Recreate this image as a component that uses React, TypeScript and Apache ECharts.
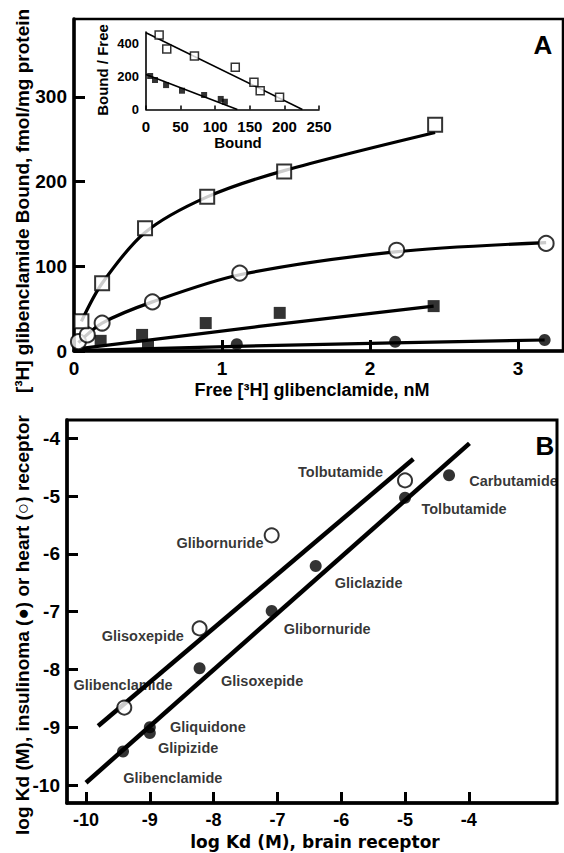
import React, { useEffect, useRef } from 'react';
import * as echarts from 'echarts';

// ---------- Panel A: saturation binding ----------
const xTicksA = [0, 1, 2, 3];
const yTicksA = [0, 100, 200, 300];
const openSquaresA = [[0.05, 35], [0.19, 80], [0.48, 145], [0.9, 182], [1.42, 212], [2.44, 267]];
const openCirclesA = [[0.03, 11], [0.09, 19], [0.19, 33], [0.53, 58], [1.12, 92], [2.18, 119], [3.19, 127]];
const filledSquaresA = [[0.18, 12], [0.46, 19], [0.5, 7], [0.89, 33], [1.39, 45], [2.43, 53]];
const filledCirclesA = [[1.1, 8], [2.17, 11], [3.18, 13]];
const openSquareFitA = [[0.05, 35], [0.19, 80], [0.48, 140], [0.9, 182], [1.42, 213], [2.44, 258]];
const openCircleFitA = [[0.03, 10], [0.19, 33], [0.53, 58], [1.12, 90], [2.17, 117], [3.19, 128]];
const filledSquareFitA = [[0.05, 3], [1.25, 29], [2.43, 53]];
const filledCircleFitA = [[0, 0.5], [1.1, 5.5], [2.16, 9.5], [3.18, 13]];

// ---------- Panel A inset: Scatchard plot ----------
const xTicksInset = [0, 50, 100, 150, 200, 250];
const yTicksInset = [0, 200, 400];
const insetOpenSquares = [[19, 452], [30, 367], [70, 324], [129, 256], [156, 165], [165, 114], [193, 74]];
const insetFilledSquares = [[6, 203], [13, 179], [29, 148], [52, 114], [84, 88], [108, 64], [114, 47]];
const insetOpenFit = [[0, 466], [226, 0]];
const insetFilledFit = [[0, 212], [132, 0]];

// ---------- Panel B: log Kd correlation ----------
const xTicksB = [-10, -9, -8, -7, -6, -5, -4];
const yTicksB = [-10, -9, -8, -7, -6, -5, -4];
const heartKd = [[-9.4, -8.66], [-8.22, -7.29], [-7.09, -5.68], [-5.0, -4.73]];
const insulinomaKd = [[-9.42, -9.42], [-9.0, -9.0], [-9.0, -9.1], [-8.22, -7.98], [-7.09, -6.99], [-6.4, -6.21], [-5.0, -5.03], [-4.31, -4.64]];
const heartFit = [[-9.81, -8.98], [-4.87, -4.36]];
const insulinomaFit = [[-10.0, -9.96], [-3.99, -4.09]];
const drugNames = ['Tolbutamide', 'Carbutamide', 'Tolbutamide', 'Glibornuride', 'Gliclazide', 'Glibornuride', 'Glisoxepide', 'Glisoxepide', 'Glibenclamide', 'Gliquidone', 'Glipizide', 'Glibenclamide'];
const drugLabelAnchors = [[-6.01, -4.58], [-3.3, -4.74], [-4.075, -5.23], [-7.9, -5.81], [-5.57, -6.5], [-6.22, -7.3], [-9.11, -7.43], [-7.24, -8.2], [-9.42, -8.27], [-8.09, -8.99], [-8.4, -9.36], [-8.64, -9.87]];

const FONT = '"Liberation Sans", Arial, Helvetica, sans-serif';

function valueAxis(gridIndex: number, min: number, max: number, ticks: number[], o: any) {
  return {
    gridIndex,
    type: 'value',
    min,
    max,
    axisLine: { show: true, onZero: false, lineStyle: { color: '#000', width: o.lw } },
    axisTick: { show: o.tick !== false, inside: true, length: o.tl, customValues: ticks, lineStyle: { color: '#000', width: o.tw } },
    axisLabel: { show: true, customValues: ticks, margin: o.margin, color: '#000', fontSize: o.fs, fontWeight: 'bold', fontFamily: FONT },
    splitLine: { show: false },
  };
}

export default function App() {
  const ref = useRef<HTMLDivElement>(null);
  useEffect(() => {
    if (!ref.current) return;
    const chart = echarts.init(ref.current, undefined, { renderer: 'svg' });
    const black = '#000';
    const openStyle = (bw: number) => ({ color: '#fff', borderColor: black, borderWidth: bw });
    const line = (data: number[][], x: number, w: number, smooth: number | boolean) => ({
      type: 'line', data, xAxisIndex: x, yAxisIndex: x, showSymbol: false, symbol: 'none',
      smooth, lineStyle: { color: black, width: w }, z: 2, silent: true,
    });
    const scatter = (data: number[][], x: number, symbol: string, size: number, itemStyle: any) => ({
      type: 'scatter', data, xAxisIndex: x, yAxisIndex: x, symbol, symbolSize: size, itemStyle, z: 3, silent: true,
    });
    const txt = (text: string, x: number, y: number, fs: number, rot = 0, family = FONT) => ({
      type: 'text', x, y, rotation: rot, silent: true,
      style: { text, fill: black, font: `bold ${fs}px ${family}`, align: 'center', verticalAlign: 'middle' },
    });

    const option: any = {
      animation: false,
      backgroundColor: '#fff',
      grid: [
        { left: 74, top: 19, width: 489, height: 332, show: true, borderColor: black, borderWidth: 2.5, outerBoundsMode: 'none' },
        { left: 146, top: 32, width: 173, height: 77.5, show: false, outerBoundsMode: 'none' },
        { left: 67, top: 420, width: 490, height: 383, show: true, borderColor: black, borderWidth: 3, outerBoundsMode: 'none' },
      ],
      xAxis: [
        valueAxis(0, 0, 3.304, xTicksA, { lw: 3.5, tl: 11, tw: 3, margin: 8, fs: 19 }),
        valueAxis(1, 0, 250, xTicksInset, { lw: 1.6, tl: 4, tw: 1.5, margin: 9, fs: 15 }),
        valueAxis(2, -10.298, -2.618, xTicksB, { lw: 3.5, tl: 11, tw: 3, margin: 8, fs: 18 }),
      ],
      yAxis: [
        valueAxis(0, 0, 392, yTicksA, { lw: 3.5, tl: 11, tw: 3, margin: 7, fs: 19 }),
        valueAxis(1, 0, 470, yTicksInset, { lw: 1.6, tl: 3, tw: 1.2, margin: 7, fs: 13, tick: false }),
        valueAxis(2, -10.311, -3.685, yTicksB, { lw: 3.5, tl: 11, tw: 3, margin: 7, fs: 19 }),
      ],
      series: [
        line(openSquareFitA, 0, 3.2, 0.3),
        line(openCircleFitA, 0, 3.2, 0.3),
        line(filledSquareFitA, 0, 3.2, false),
        line(filledCircleFitA, 0, 3.2, false),
        scatter(filledCirclesA, 0, 'circle', 12, { color: black }),
        scatter(filledSquaresA, 0, 'rect', 12, { color: black }),
        scatter(openCirclesA, 0, 'circle', 15, openStyle(2)),
        scatter(openSquaresA, 0, 'rect', 14, openStyle(2)),
        line(insetOpenFit, 1, 1.6, false),
        line(insetFilledFit, 1, 1.6, false),
        scatter(insetFilledSquares, 1, 'rect', 6, { color: black }),
        scatter(insetOpenSquares, 1, 'rect', 8, openStyle(1.5)),
        {
          type: 'scatter', xAxisIndex: 2, yAxisIndex: 2, symbolSize: 1, z: 1, silent: true,
          itemStyle: { color: 'transparent' },
          data: drugNames.map((n, i) => ({ name: n, value: drugLabelAnchors[i] })),
          label: { show: true, position: 'inside', formatter: '{b}', color: black, fontSize: 14.5, fontWeight: 'bold', fontFamily: FONT },
        },
        line(heartFit, 2, 4.5, false),
        line(insulinomaFit, 2, 4.5, false),
        scatter(insulinomaKd, 2, 'circle', 12, { color: black }),
        scatter(heartKd, 2, 'circle', 14, openStyle(2)),
      ],
      graphic: [
        txt('[³H] glibenclamide Bound, fmol/mg protein', 22, 201, 19, Math.PI / 2),
        txt('Free [³H] glibenclamide, nM', 312, 390, 18),
        txt('Bound / Free', 102, 70, 15, Math.PI / 2),
        txt('Bound', 238, 142, 15),
        txt('A', 543, 45, 26),
        txt('log Kd (M), insulinoma (●) or heart (○) receptor', 22, 625, 19, Math.PI / 2),
        txt('log Kd (M), brain receptor', 315, 842, 17, 0, '"DejaVu Sans", sans-serif'),
        txt('B', 545, 446, 26),
      ],
    };
    chart.setOption(option);
    return () => chart.dispose();
  }, []);
  return <div ref={ref} style={{ position: 'fixed', left: 0, top: 0, width: 564, height: 853 }} />;
}
